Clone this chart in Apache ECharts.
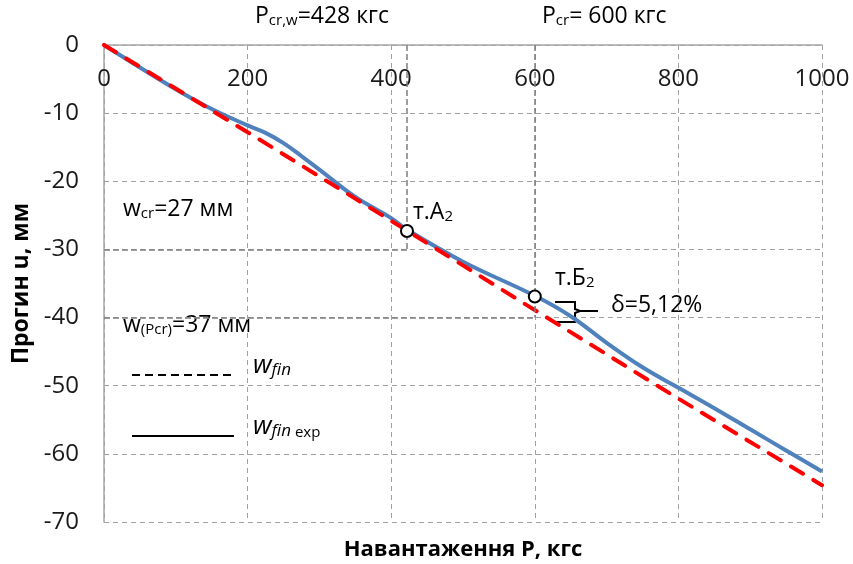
<!DOCTYPE html>
<html>
<head>
<meta charset="utf-8">
<script src="https://cdn.jsdelivr.net/npm/echarts@6/dist/echarts.min.js"></script>
<style>
  html, body { margin: 0; padding: 0; background: #fff; }
  #chart { width: 853px; height: 564px; }
</style>
</head>
<body>
<div id="chart"></div>
<script>
// Load P, kgf
const xTicks = [0, 200, 400, 600, 800, 1000]
const yTicks = [0, -10, -20, -30, -40, -50, -60, -70]

// w_fin (theory, red dashed)
const finLoad = [0, 200, 400, 600, 800, 1000]
const finDefl = [0, -12.8, -25.8, -38.9, -51.9, -64.6]

// w_fin exp (experiment, blue solid)
const expLoad = [0, 50, 100, 150, 200, 225, 250, 275, 300, 350, 400, 422, 500, 600, 650, 700, 750, 800, 850, 900, 950, 1000]
const expDefl = [0, -3.3, -6.5, -9.4, -11.8, -12.9, -14.4, -16.3, -18.3, -22.3, -25.4, -27.1, -31.8, -36.8, -39.8, -43.7, -47.3, -50.3, -53.3, -56.4, -59.5, -62.6]

// marked points т.А2 and т.Б2
const pointLoad = [422, 600]
const pointDefl = [-27.3, -36.9]

// critical values
const pcrW = 422
const wCr = -30
const pcr = 600
const wPcr = -40

const FONT = '"Open Sans", "Noto Sans", sans-serif'

const chart = echarts.init(document.getElementById('chart'))

const main = (size) => ({ fontSize: size, fontFamily: FONT, color: '#000', lineHeight: size + 4, verticalAlign: 'bottom' })
const sub = (size) => ({ fontSize: size, fontFamily: FONT, color: '#000', lineHeight: size + 4, verticalAlign: 'bottom' })

const option = {
  animation: false,
  grid: { left: 104, right: 31, top: 45, bottom: 42, outerBoundsMode: 'none', containLabel: false },
  xAxis: [
    {
      type: 'value',
      position: 'top',
      min: 0,
      max: 1000,
      interval: 200,
      axisLine: { show: true, onZero: false, lineStyle: { color: '#a6a6a6', width: 1.5 } },
      axisTick: { show: false },
      axisLabel: { inside: true, margin: 22, fontSize: 24, fontFamily: FONT, color: '#1a1a1a', formatter: (v) => String(v) },
      splitLine: { show: true, lineStyle: { color: '#a0a0a0', type: [5, 4], width: 1 } }
    },
    {
      type: 'value',
      position: 'bottom',
      min: 0,
      max: 1000,
      name: 'Навантаження Р, кгс',
      nameLocation: 'middle',
      nameGap: 17,
      nameTextStyle: { fontSize: 22, fontWeight: 'bold', fontFamily: FONT, color: '#000' },
      axisLine: { show: false },
      axisTick: { show: false },
      axisLabel: { show: false },
      splitLine: { show: false }
    }
  ],
  yAxis: {
    type: 'value',
    min: -70,
    max: 0,
    interval: 10,
    name: 'Прогин u, мм',
    nameLocation: 'middle',
    nameGap: 70,
    nameRotate: 90,
    nameTextStyle: { fontSize: 23, fontWeight: 'bold', fontFamily: FONT, color: '#000' },
    axisLine: { show: true, onZero: false, lineStyle: { color: '#a6a6a6', width: 1.5 } },
    axisTick: { show: false },
    axisLabel: { margin: 25, fontSize: 24, fontFamily: FONT, color: '#1a1a1a' },
    splitLine: { show: true, lineStyle: { color: '#a0a0a0', type: [5, 4], width: 1 } }
  },
  series: [
    {
      name: 'guides',
      type: 'line',
      data: [],
      markLine: {
        silent: true,
        symbol: 'none',
        label: { show: false },
        lineStyle: { color: '#7f7f7f', type: [6, 3], width: 1.5 },
        data: [
          [{ coord: [pcrW, 0] }, { coord: [pcrW, wCr] }],
          [{ coord: [0, wCr] }, { coord: [pcrW, wCr] }],
          [{ coord: [pcr, 0] }, { coord: [pcr, wPcr] }],
          [{ coord: [0, wPcr] }, { coord: [pcr, wPcr] }]
        ]
      }
    },
    {
      name: 'w_fin exp',
      type: 'line',
      smooth: 0.4,
      symbol: 'none',
      data: expLoad.map((p, i) => [p, expDefl[i]]),
      lineStyle: { color: '#4F81BD', width: 4 },
      z: 3
    },
    {
      name: 'w_fin',
      type: 'line',
      symbol: 'none',
      data: finLoad.map((p, i) => [p, finDefl[i]]),
      lineStyle: { color: '#FF0000', width: 4, type: [14, 12], cap: 'round' },
      z: 4
    },
    {
      name: 'points',
      type: 'scatter',
      symbol: 'circle',
      symbolSize: 12,
      data: pointLoad.map((p, i) => [p, pointDefl[i]]),
      itemStyle: { color: '#fff', borderColor: '#000', borderWidth: 2, opacity: 1 },
      z: 5
    }
  ],
  graphic: [
    // top annotations
    {
      type: 'text', left: 255, top: 5,
      style: { text: '{a|P}{s|cr,w}{a|=428 кгс}', rich: { a: main(23), s: sub(15) } }
    },
    {
      type: 'text', left: 542, top: 5,
      style: { text: '{a|P}{s|cr}{a|= 600 кгс}', rich: { a: main(23), s: sub(15) } }
    },
    // w_cr
    {
      type: 'text', left: 123, top: 198,
      style: { text: '{a|w}{s|cr}{a|=27 мм}', rich: { a: main(23), s: sub(15) } }
    },
    {
      type: 'text', left: 123, top: 314,
      style: { text: '{a|w}{s|(Pcr)}{a|=37 мм}', rich: { a: main(23), s: sub(15) } }
    },
    // point labels
    {
      type: 'text', left: 413, top: 201,
      style: { text: '{a|т.А}{s|2}', rich: { a: main(23), s: sub(15) } }
    },
    {
      type: 'text', left: 555, top: 267,
      style: { text: '{a|т.Б}{s|2}', rich: { a: main(23), s: sub(15) } }
    },
    {
      type: 'text', left: 611, top: 294,
      style: { text: 'δ=5,12%', fontSize: 23, fontFamily: FONT, fill: '#000' }
    },
    // brace
    {
      type: 'polyline',
      shape: { points: [[555, 302], [575, 302], [575, 309], [580, 311], [575, 313], [575, 322], [555, 322]] },
      style: { stroke: '#000', fill: null, lineWidth: 2 }
    },
    {
      type: 'line',
      shape: { x1: 580, y1: 311, x2: 598, y2: 311 },
      style: { stroke: '#000', lineWidth: 2 }
    },
    // legend keys
    {
      type: 'line',
      shape: { x1: 132, y1: 375, x2: 234, y2: 375 },
      style: { stroke: '#000', lineWidth: 2, lineDash: [8, 5] }
    },
    {
      type: 'text', left: 253, top: 353,
      style: {
        text: '{a|w}{s|fin}',
        rich: {
          a: { fontSize: 26, fontStyle: 'italic', fontFamily: FONT, color: '#000', lineHeight: 30, verticalAlign: 'bottom' },
          s: { fontSize: 17, fontStyle: 'italic', fontFamily: FONT, color: '#000', lineHeight: 21, verticalAlign: 'bottom' }
        }
      }
    },
    {
      type: 'line',
      shape: { x1: 132, y1: 436, x2: 234, y2: 436 },
      style: { stroke: '#000', lineWidth: 2 }
    },
    {
      type: 'text', left: 253, top: 414,
      style: {
        text: '{a|w}{s|fin}{e| exp}',
        rich: {
          a: { fontSize: 26, fontStyle: 'italic', fontFamily: FONT, color: '#000', lineHeight: 30, verticalAlign: 'bottom' },
          s: { fontSize: 17, fontStyle: 'italic', fontFamily: FONT, color: '#000', lineHeight: 21, verticalAlign: 'bottom' },
          e: { fontSize: 15, fontFamily: FONT, color: '#000', lineHeight: 20, verticalAlign: 'bottom' }
        }
      }
    }
  ]
}

chart.setOption(option)
window.addEventListener('resize', () => chart.resize())
</script>
</body>
</html>
